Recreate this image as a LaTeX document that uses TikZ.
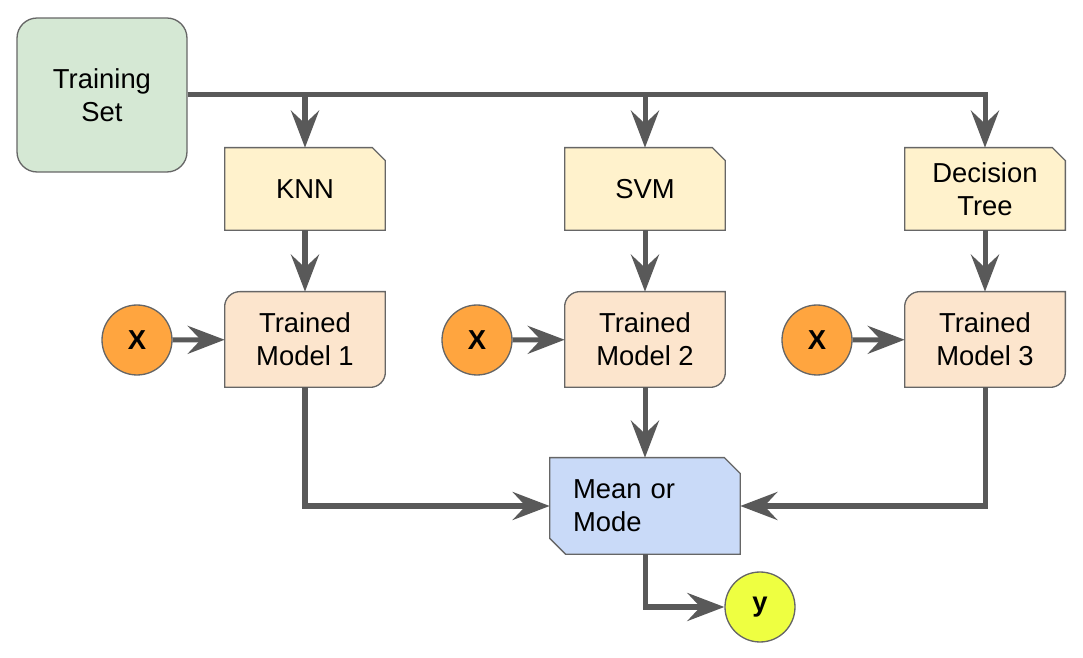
\documentclass[tikz,border=0pt]{standalone}
\usepackage{fontspec}
\setmainfont{Liberation Sans}
\usetikzlibrary{arrows.meta, backgrounds}

\definecolor{linegray}{HTML}{595959}
\definecolor{bordergray}{HTML}{666666}
\definecolor{setgreen}{HTML}{D5E8D4}
\definecolor{noteyellow}{HTML}{FFF2CC}
\definecolor{modelorange}{HTML}{FCE5CD}
\definecolor{inputorange}{HTML}{FFA53F}
\definecolor{meanblue}{HTML}{C9DAF8}
\definecolor{outyellow}{HTML}{EEFF41}

\tikzset{
	conn/.style = {line width=2.85pt, linegray, -{Stealth[length=0.74cm, width=0.56cm, inset=0.26cm]}},
	shape border/.style = {draw=bordergray, line width=0.75pt},
	box/.style = {inner sep=0, minimum width=3.2cm, align=center, font=\fontsize{15.6}{18.7}\selectfont},
	ball/.style = {circle, shape border, minimum size=1.4cm, inner sep=0, font=\fontsize{15.6}{18.7}\selectfont\bfseries},
}

\begin{document}
\begin{tikzpicture}[x=0.02cm, y=-0.02cm]

\useasboundingbox (0,0) rectangle (1083,658);

\node[box, rounded corners=0.4cm, shape border, fill=setgreen, minimum width=3.4cm, minimum height=3.08cm] (train) at (102,95) {Training\\Set};

\foreach \x/\label/\i in {305/KNN/1, 645/SVM/2, 985/{Decision\\Tree}/3} {
	\node[box, minimum height=1.64cm] (note\i) at (\x,189) {\label};
	\node[box, minimum height=1.9cm] (model\i) at (\x,339.5) {Trained\\Model \i};
	\node[ball, fill=inputorange] (in\i) at (\x-168,340) {X};
	\draw[conn] (train.east) -| (note\i.north);
	\draw[conn] (note\i) -- (model\i);
	\draw[conn] (in\i) -- (model\i);
}

\node[box, minimum width=3.8cm, minimum height=1.92cm, text width=2.88cm, align=left] (vote) at (645,506) {Mean or\\Mode};
\node[ball, fill=outyellow] (out) at (760,607) {y};

\draw[conn] (model1.south) |- (vote.west);
\draw[conn] (model2) -- (vote);
\draw[conn] (model3.south) |- (vote.east);
\draw[conn] (vote.south) |- (out.west);

\begin{scope}[on background layer]
\foreach \i in {1,2,3} {
	\draw[shape border, fill=noteyellow] (note\i.south west) -- (note\i.north west) -- ([xshift=-0.26cm]note\i.north east)
		-- ([yshift=-0.26cm]note\i.north east) -- (note\i.south east) -- cycle;
	\draw[shape border, fill=modelorange] (model\i.south west) -- ([yshift=-0.3cm]model\i.north west)
		arc[start angle=180, end angle=90, radius=0.3cm] -- (model\i.north east)
		-- ([yshift=0.3cm]model\i.south east) arc[start angle=0, end angle=-90, radius=0.3cm] -- cycle;
}
\draw[shape border, fill=meanblue] (vote.north west) -- ([xshift=-0.32cm]vote.north east) -- ([yshift=-0.32cm]vote.north east)
	-- (vote.south east) -- ([xshift=0.32cm]vote.south west) -- ([yshift=0.32cm]vote.south west) -- cycle;
\end{scope}

\end{tikzpicture}
\end{document}
